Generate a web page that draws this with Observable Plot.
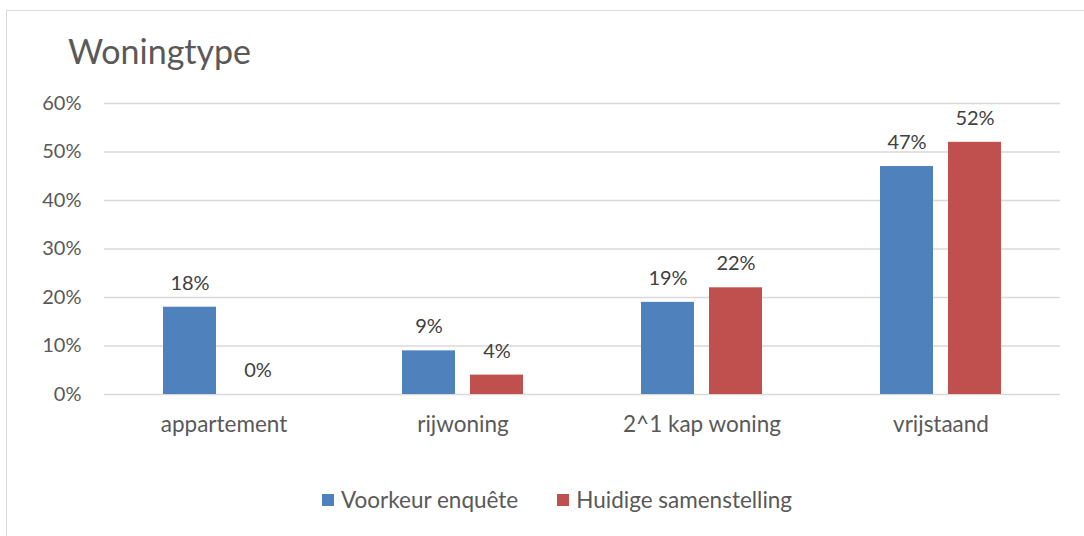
<!DOCTYPE html>
<html>
<head>
<meta charset="utf-8">
<script src="https://cdn.jsdelivr.net/npm/d3@7"></script>
<script src="https://cdn.jsdelivr.net/npm/@observablehq/plot@0.6"></script>
<style>
  html, body { margin: 0; padding: 0; width: 1084px; height: 536px; overflow: hidden; background: #fff; font-family: Lato, "Open Sans", sans-serif; }
  #frame { position: absolute; left: 6px; top: 10px; width: 1100px; height: 600px; border: 1px solid #d9d9d9; box-sizing: border-box; }
  #title { position: absolute; left: 68px; top: 31px; font-size: 34px; line-height: 40px; color: #595959; }
  #chart { position: absolute; left: 0; top: 80px; }
  #legend { position: absolute; left: 322px; top: 486px; font-size: 22.5px; line-height: 28px; color: #595959; display: flex; align-items: center; }
  .item { display: flex; align-items: center; }
  .sw { width: 12px; height: 12px; margin-right: 7px; }
  .fxlab text { font-size: 22.5px; }
</style>
</head>
<body>
<div id="frame"></div>
<div id="title">Woningtype</div>
<div id="chart"></div>
<div id="legend"></div>
<script>
const categories = ["appartement", "rijwoning", "2^1 kap woning", "vrijstaand"];
const series = ["Voorkeur enquête", "Huidige samenstelling"];
const voorkeur = [0.18, 0.09, 0.19, 0.47];
const huidige = [0.00, 0.04, 0.22, 0.52];
const yTicks = [0, 0.1, 0.2, 0.3, 0.4, 0.5, 0.6];
const colors = ["#4F81BD", "#C0504D"];

const data = categories.flatMap((c, i) => [
  {cat: c, series: series[0], value: voorkeur[i]},
  {cat: c, series: series[1], value: huidige[i]}
]);
const pct = d3.format(".0%");

const chart = Plot.plot({
  width: 1084,
  height: 364,
  marginLeft: 103,
  marginRight: 23,
  marginTop: 23,
  marginBottom: 50,
  style: {fontFamily: "Lato, 'Open Sans', sans-serif", fontSize: "20px", color: "#595959", background: "transparent"},
  fx: {domain: categories, padding: 0, axis: null, label: null},
  x: {domain: series, axis: null, paddingInner: 0.217, paddingOuter: 0.844},
  y: {domain: [0, 0.6], ticks: yTicks, tickFormat: pct, tickSize: 0, tickPadding: 23, label: null},
  color: {domain: series, range: colors},
  marks: [
    Plot.ruleY(yTicks, {stroke: "#d9d9d9", strokeWidth: 1.5}),
    Plot.barY(data.filter(d => d.value > 0), {fx: "cat", x: "series", y: "value", fill: "series"}),
    Plot.text(data, {fx: "cat", x: "series", y: "value", text: d => pct(d.value), dy: -24, fill: "#404040"}),
    Plot.axisFx({anchor: "bottom", tickSize: 0, tickPadding: 22, fontSize: 22.5, label: null, className: "fxlab"})
  ]
});
document.getElementById("chart").appendChild(chart);

const legend = document.getElementById("legend");
series.forEach((s, i) => {
  const item = document.createElement("div");
  item.className = "item";
  if (i > 0) item.style.marginLeft = "39px";
  const sw = document.createElement("div");
  sw.className = "sw";
  sw.style.background = colors[i];
  const t = document.createElement("span");
  t.textContent = s;
  item.appendChild(sw);
  item.appendChild(t);
  legend.appendChild(item);
});
</script>
</body>
</html>
